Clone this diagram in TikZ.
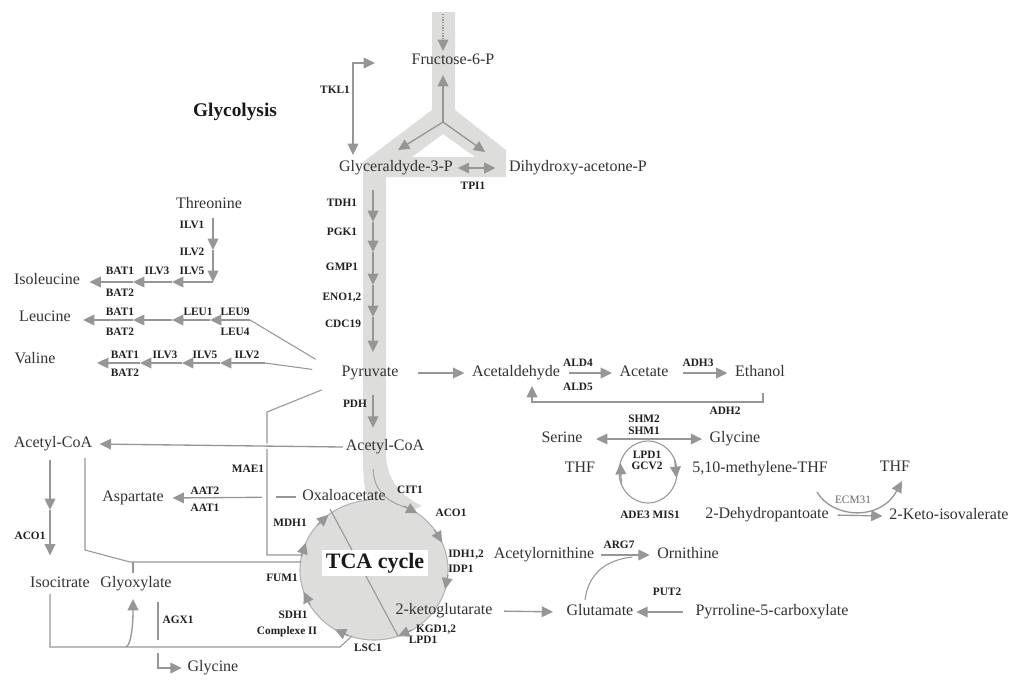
\documentclass[tikz,border=0pt]{standalone}
\usepackage{fontspec}
\setmainfont{Liberation Serif}
\usetikzlibrary{arrows.meta,positioning}

\definecolor{bandgray}{RGB}{221,221,219}
\definecolor{linegray}{RGB}{150,150,150}
\definecolor{txtgray}{RGB}{50,50,50}

\tikzset{
  met/.style={font=\fontsize{12}{13}\selectfont, text=txtgray, inner sep=2pt,
    text height=8pt, text depth=2.5pt},
  enz/.style={font=\bfseries\fontsize{8.5}{9}\selectfont, text=black!88, inner sep=0pt},
  rxn/.style={draw=linegray, line width=1pt, -{Triangle[length=8.5pt,width=8pt]}},
  rxnboth/.style={draw=linegray, line width=1pt,
    {Triangle[length=8.5pt,width=8pt]}-{Triangle[length=8.5pt,width=8pt]}},
  ln/.style={draw=linegray, line width=0.8pt}
}

\begin{document}
\begin{tikzpicture}[x=0.75pt, y=-0.75pt]
  \useasboundingbox (0,0) rectangle (1012,679);

  % TCA circle and glycolysis band
  \coordinate (tcc) at (374,570);
  \draw[fill=bandgray, draw=black!30, line width=0.8pt] (tcc) ellipse [x radius=74, y radius=70];
  \fill[bandgray, even odd rule]
    (432,12) -- (455,12) -- (455,110) -- (506,150) -- (506,177) -- (386,177)
    -- (386,452) .. controls (386,478) and (398,494) .. (422,506) -- (385,522)
    -- (370,505) .. controls (364,490) and (363,478) .. (363,455) -- (363,162) -- (432,110) -- cycle
    (443,134) -- (475,157) -- (412,157) -- cycle;

  \node[met] (f6p) at (453,61) {Fructose-6-P};
  \node[met] (gap) at (396,168) {Glyceraldyde-3-P};
  \node[met] (dhap) at (578,168) {Dihydroxy-acetone-P};
  \node[font=\bfseries\fontsize{14.5}{16}\selectfont, text=black!90] (glyco) at (235,112) {Glycolysis};
  \node[met] (thr) at (209,205) {Threonine};
  \node[met] (ile) at (47,281) {Isoleucine};
  \node[met] (leu) at (45,318) {Leucine};
  \node[met] (val) at (35,360) {Valine};
  \node[met] (pyr) at (370,373) {Pyruvate};
  \node[met] (acald) at (516,373) {Acetaldehyde};
  \node[met] (acet) at (644,373) {Acetate};
  \node[met] (etoh) at (760,373) {Ethanol};
  \node[met] (accoa) at (385,447) {Acetyl-CoA};
  \node[met] (accoal) at (53,444) {Acetyl-CoA};
  \node[met] (ser) at (562,439) {Serine};
  \node[met] (gly) at (735,439) {Glycine};
  \node[met] (thfa) at (580,469) {THF};
  \node[met] (mthf) at (760,469) {5,10-methylene-THF};
  \node[met] (thfb) at (895,468) {THF};
  \node[met] (dhp) at (767,515) {2-Dehydropantoate};
  \node[met] (kiv) at (949,516) {2-Keto-isovalerate};
  \node[met] (asp) at (133,498) {Aspartate};
  \node[met] (oaa) at (344,497) {Oxaloacetate};
  \node[met] (icit) at (60,584) {Isocitrate};
  \node[met] (glyox) at (136,584) {Glyoxylate};
  \node[met] (acorn) at (544,555) {Acetylornithine};
  \node[met] (orn) at (688,555) {Ornithine};
  \node[met] (akg) at (444,611) {2-ketoglutarate};
  \node[met] (glu) at (600,612) {Glutamate};
  \node[met] (p5c) at (772,612) {Pyrroline-5-carboxylate};
  \node[met] (glyb) at (213,668) {Glycine};

  \node[enz] (tkl) at (335,90) {TKL1};
  \node[enz] (tpi) at (473,186) {TPI1};
  \node[enz] (tdh) at (342,203) {TDH1};
  \node[enz] (pgk) at (342,232) {PGK1};
  \node[enz] (gmp) at (342,267) {GMP1};
  \node[enz] (eno) at (342,298) {ENO1,2};
  \node[enz] (cdc) at (343,324) {CDC19};
  \node[enz] (pdh) at (355,404) {PDH};
  \node[enz] (ilva) at (192,225) {ILV1};
  \node[enz] (ilvb) at (192,252) {ILV2};
  \node[enz] (ilvc) at (192,271) {ILV5};
  \node[enz] (ilvd) at (157,271) {ILV3};
  \node[enz] (bata) at (120,271) {BAT1};
  \node[enz] (batb) at (120,293) {BAT2};
  \node[enz] (leua) at (235,312) {LEU9};
  \node[enz] (leub) at (235,332) {LEU4};
  \node[enz] (leuc1) at (198,312) {LEU1};
  \node[enz] (batc) at (120,312) {BAT1};
  \node[enz] (batd) at (120,332) {BAT2};
  \node[enz] (ilve) at (247,355) {ILV2};
  \node[enz] (ilvf) at (205,355) {ILV5};
  \node[enz] (ilvg) at (165,355) {ILV3};
  \node[enz] (bate) at (125,355) {BAT1};
  \node[enz] (batf) at (125,373) {BAT2};
  \node[enz] (alda) at (578,363) {ALD4};
  \node[enz] (aldb) at (578,387) {ALD5};
  \node[enz] (adha) at (698,363) {ADH3};
  \node[enz] (adhb) at (725,411) {ADH2};
  \node[enz] (shma) at (644,419) {SHM2};
  \node[enz] (shmb) at (644,430.5) {SHM1};
  \node[enz] (lpda) at (647,454.5) {LPD1};
  \node[enz] (gcv) at (647,466) {GCV2};
  \node[enz] (ade) at (650,515) {ADE3 MIS1};
  \node[font=\fontsize{8.5}{9}\selectfont, text=black!60, inner sep=0pt] (ecmlab) at (853,500) {ECM31};
  \node[enz] (mae) at (248,469) {MAE1};
  \node[enz] (aata) at (205,491) {AAT2};
  \node[enz] (aatb) at (205,508) {AAT1};
  \node[enz] (mdh) at (290,523) {MDH1};
  \node[enz] (cit) at (410,490) {CIT1};
  \node[enz] (acob) at (451,513) {ACO1};
  \node[enz, anchor=west] (idh) at (448,555) {IDH1,2};
  \node[enz, anchor=west] (idp) at (448,569) {IDP1};
  \node[enz] (fum) at (282,578) {FUM1};
  \node[enz] (sdh) at (293,615) {SDH1};
  \node[enz] (cplx) at (287,632) {Complexe II};
  \node[enz] (lsc) at (368,648) {LSC1};
  \node[enz] (kgd) at (436,630) {KGD1,2};
  \node[enz] (lpdb) at (423,640) {LPD1};
  \node[enz] (acoa) at (30,536) {ACO1};
  \node[enz] (agx) at (178,620) {AGX1};
  \node[enz] (arg) at (619,545) {ARG7};
  \node[enz] (put) at (667,592) {PUT2};

  % glycolysis
  \coordinate (ftop) at (443,14);
  \coordinate (yj) at (443,122);
  \draw[rxn, densely dotted] (ftop) -- (ftop |- f6p.north);
  \draw[rxn, shorten >=3pt] (yj) -- (yj |- f6p.south);
  \draw[rxn] (yj) -- ([shift={(2,-8)}]gap.north);
  \draw[rxn] (yj) -- ([shift={(-21,-6)}]dhap.north west);
  \draw[rxnboth, shorten <=1.5pt, shorten >=8pt] (gap.east) -- (dhap.west);
  \coordinate (tka) at (375,63);
  \coordinate (tkb) at (353,155);
  \draw[rxnboth] (tka) -| (tkb);

  \coordinate (g0) at (373,190);
  \coordinate (g1) at (373,222);
  \coordinate (g2) at (373,252);
  \coordinate (g3) at (373,285);
  \coordinate (g4) at (373,317);
  \coordinate (g5) at (373,352);
  \draw[rxn] (g0) -- (g1);
  \draw[rxn] (g1) -- (g2);
  \draw[rxn] (g2) -- (g3);
  \draw[rxn] (g3) -- (g4);
  \draw[rxn] (g4) -- (g5);
  \draw[rxn, shorten <=9pt, shorten >=7pt] (pyr.south -| g0) -- (accoa.north -| g0);

  % amino acids
  \coordinate (ilc) at (213,282);
  \draw[rxn] ([shift={(0,-64)}]ilc) -- ([shift={(0,-32)}]ilc);
  \draw[rxn] ([shift={(0,-32)}]ilc) -- (ilc);
  \draw[rxn] (ilc) -- ([shift={(-41,0)}]ilc);
  \draw[rxn] ([shift={(-41,0)}]ilc) -- ([shift={(-80,0)}]ilc);
  \draw[rxn, shorten >=5pt] ([shift={(-80,0)}]ilc) -- (ile.east |- ilc);

  \coordinate (leuc) at (250,320);
  \draw[rxn] (leuc) -- ([shift={(-40,0)}]leuc);
  \draw[rxn] ([shift={(-40,0)}]leuc) -- ([shift={(-78,0)}]leuc);
  \draw[rxn] ([shift={(-78,0)}]leuc) -- ([shift={(-117,0)}]leuc);
  \draw[rxn, shorten >=7pt] ([shift={(-117,0)}]leuc) -- (leu.east |- leuc);
  \draw[ln, shorten >=20pt] (leuc) -- (pyr.west);

  \coordinate (valc) at (265,363);
  \draw[rxn] (valc) -- ([shift={(-45,0)}]valc);
  \draw[rxn] ([shift={(-45,0)}]valc) -- ([shift={(-83,0)}]valc);
  \draw[rxn] ([shift={(-83,0)}]valc) -- ([shift={(-125,0)}]valc);
  \draw[rxn, shorten >=29pt] ([shift={(-125,0)}]valc) -- (val.east |- valc);
  \draw[ln, shorten >=20pt] (valc) -- (pyr.west);

  % fermentation
  \draw[rxn, shorten <=12.5pt, shorten >=3.5pt] (pyr.east) -- (acald.west);
  \draw[rxn, shorten <=4.5pt, shorten >=3.5pt] (acald.east) -- (acet.west);
  \draw[rxn, shorten <=9pt, shorten >=3.5pt] (acet.east) -- (etoh.west);
  \coordinate (adh) at (763,402);
  \draw[rxn] (adh) ++(0,-9) -- (adh) -| ([shift={(16,3)}]acald.south);

  % one-carbon
  \draw[rxnboth, shorten <=8pt, shorten >=3.5pt] (ser.east) -- (gly.west);
  \coordinate (lpd) at (648,472);
  \draw[ln] (lpd) ellipse [x radius=29, y radius=31];
  \draw[rxn] ([shift={(-26.7,12)}]lpd) -- ([shift={(-27.7,-9)}]lpd);
  \draw[rxn] ([shift={(26.7,-12)}]lpd) -- ([shift={(28.5,6)}]lpd);
  \coordinate (ecm) at (817,492);
  \draw[rxn] (ecm) .. controls +(15,26) and +(-22,41) .. ([shift={(7,13)}]thfb.center);
  \draw[rxn, shorten <=4.5pt, shorten >=3pt] (dhp.east) -- (kiv.west);

  % ornithine
  \draw[rxn, shorten <=3pt, shorten >=3.5pt] (acorn.east) -- (orn.west);
  \draw[ln] ([shift={(-15,-12)}]glu.center) .. controls +(3,-25) and +(-28,3) .. ([shift={(-22,2)}]orn.west);
  \draw[rxn, shorten <=6.5pt, shorten >=8pt] (akg.east) -- (glu.west);
  \draw[rxn, shorten <=7.5pt] (p5c.west) -- (glu.east);

  % anaplerosis and glyoxylate shunt
  \coordinate (maet) at (267,412);
  \coordinate (maeb) at (267,555);
  \draw[ln] ([shift={(-17,7)}]pyr.south west) -- (maet) -- (maeb) -- ++(35,0);
  \draw[rxn, shorten >=3.5pt, preaction={draw=white, line width=4pt, shorten >=6pt, -}] (accoa.west) -- (accoal.east);
  \draw[rxn, shorten <=28pt, shorten >=4.5pt] (oaa.west) -- (asp.east);
  \draw[ln] (oaa.west) ++(-23,0) -- ++(20,0);

  \coordinate (aco) at (50,510);
  \draw[rxn] (aco) ++(0,-50) -- (aco);
  \draw[rxn, shorten >=14pt] (aco) -- (aco |- icit.north);
  \coordinate (gxa) at (85,550);
  \coordinate (gxb) at (130,562);
  \draw[ln] (gxa) ++(0,-92) -- (gxa) -- (gxb) -- ++(171,0);
  \draw[ln] (gxb) ++(3,0) -- ++(0,11);
  \coordinate (bl) at (50,647);
  \draw[ln] (icit.south -| bl) -- (bl) -- ++(290,0) -- ++(12,-11);
  \draw[rxn] (bl) ++(76,0) .. controls +(6,-3) and +(0,22) .. ([shift={(-3,5)}]glyox.south);
  \coordinate (agxt) at (158,602);
  \draw[ln] (agxt) -- ++(0,38);
  \draw[rxn] (agxt) ++(0,51) |- ([shift={(-3,0)}]glyb.west);

  % TCA cycle
  \draw[ln, line width=0.6pt] ([shift={(-12,12)}]accoa.south) .. controls +(1,22) and +(-22,-6)
    .. ([shift={({74*cos(-62)},{70*sin(-62)})}]tcc);
  \foreach \a in {-54,-23,16,71,122,162,203,232}
    \draw[rxn] ([shift={({74*cos(\a-12)},{70*sin(\a-12)})}]tcc) -- ([shift={({74*cos(\a)},{70*sin(\a)})}]tcc);
  \draw[ln] ([shift={(-14,2)}]oaa.south) -- ([shift={({74*cos(71)},{70*sin(71)})}]tcc);
  \node[fill=white, font=\bfseries\fontsize{16.5}{18}\selectfont, text=black!90, inner sep=0pt,
    minimum width=79pt, minimum height=20pt] (tca) at (375,563) {TCA cycle};
\end{tikzpicture}
\end{document}
